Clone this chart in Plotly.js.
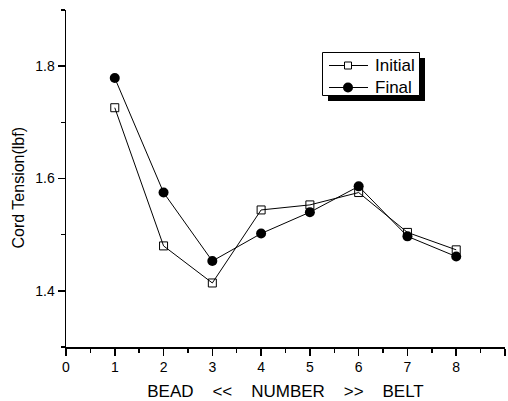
<!DOCTYPE html>
<html><head><meta charset="utf-8">
<script src="https://cdn.plot.ly/plotly-3.0.1.min.js"></script>
<style>html,body{margin:0;padding:0;background:#fff}#chart{width:508px;height:401px}</style>
</head><body><div id="chart"></div>
<script>
const positions = [1, 2, 3, 4, 5, 6, 7, 8];
const initialTension = [1.726, 1.480, 1.414, 1.544, 1.553, 1.575, 1.504, 1.473];
const finalTension = [1.779, 1.575, 1.453, 1.502, 1.540, 1.586, 1.497, 1.461];
const seriesNames = ["Initial", "Final"];
const S = "\u00A0\u00A0\u00A0\u00A0";
const xTitle = "BEAD" + S + "<<" + S + "NUMBER" + S + ">>" + S + "BELT";
const yTitle = "Cord Tension(lbf)";

const FAM = "Arial, Liberation Sans, sans-serif";
const W = 508, H = 401, ML = 66, MR = 3, MT = 10, MB = 54;
const px = v => (v - ML) / (W - ML - MR);
const py = v => (H - MB - v) / (H - MT - MB);

const tickFont = {family: FAM, size: 14, color: "#000"};
const traces = [
  {x: positions, y: initialTension, name: seriesNames[0], mode: "lines+markers",
   line: {color: "#000", width: 1},
   marker: {symbol: "square-open", size: 8, color: "#000", line: {width: 1, color: "#000"}}},
  {x: positions, y: finalTension, name: seriesNames[1], mode: "lines+markers",
   line: {color: "#000", width: 1},
   marker: {symbol: "circle", size: 10, color: "#000"}}
];

// legend drawn by hand (box with drop shadow, as in the reference)
const legRows = [65.5, 87.5];
const shapes = [
  {type: "rect", x0: px(328), x1: px(425), y0: py(101), y1: py(58), fillcolor: "#000", line: {width: 0}},
  {type: "rect", x0: px(322.5), x1: px(419.5), y0: py(95.5), y1: py(52.5), fillcolor: "#fff", line: {width: 1, color: "#000"}}
];
const annotations = [];
legRows.forEach((ry, i) => {
  shapes.push({type: "line", x0: px(329), x1: px(368), y0: py(ry), y1: py(ry), line: {width: 1, color: "#000"}});
  if (i === 0) {
    shapes.push({type: "rect", x0: px(344.5), x1: px(351.5), y0: py(ry + 3.5), y1: py(ry - 3.5), fillcolor: "#fff", line: {width: 1, color: "#000"}});
  } else {
    shapes.push({type: "circle", x0: px(343), x1: px(353), y0: py(ry + 5), y1: py(ry - 5), fillcolor: "#000", line: {width: 0}});
  }
  annotations.push({xref: "paper", yref: "paper", x: px(373), y: py(ry), xanchor: "left", yanchor: "middle",
    text: seriesNames[i], showarrow: false, font: {family: FAM, size: 17, color: "#000"}});
});
shapes.forEach(s => { s.xref = "paper"; s.yref = "paper"; s.layer = "above"; });
annotations.push({xref: "paper", yref: "paper", x: px(17.5), y: py(188), xanchor: "center", yanchor: "middle",
  textangle: -90, text: yTitle, showarrow: false, font: {family: FAM, size: 16, color: "#000"}});

const layout = {
  width: W, height: H,
  margin: {l: ML, r: MR, t: MT, b: MB},
  paper_bgcolor: "#fff", plot_bgcolor: "#fff",
  font: tickFont,
  showlegend: false,
  shapes: shapes,
  annotations: annotations,
  xaxis: {range: [0, 9], dtick: 1, tick0: 0, showgrid: false, zeroline: false,
    showline: true, linecolor: "#000", linewidth: 1.5,
    ticks: "outside", ticklen: 7, tickwidth: 1.5, tickcolor: "#000",
    minor: {dtick: 0.5, ticks: "outside", ticklen: 4, tickwidth: 1.5, tickcolor: "#000", showgrid: false},
    tickfont: tickFont,
    title: {text: xTitle, font: {family: FAM, size: 17, color: "#000"}, standoff: 11}},
  yaxis: {range: [1.3, 1.9], dtick: 0.2, tick0: 1.4, showgrid: false, zeroline: false,
    showline: true, linecolor: "#000", linewidth: 1.5,
    ticks: "outside", ticklen: 7, tickwidth: 1.5, tickcolor: "#000",
    minor: {dtick: 0.1, ticks: "outside", ticklen: 4, tickwidth: 1.5, tickcolor: "#000", showgrid: false},
    tickfont: tickFont, tickformat: ".1f"}
};
Plotly.newPlot("chart", traces, layout, {displayModeBar: false, staticPlot: true});
</script></body></html>
